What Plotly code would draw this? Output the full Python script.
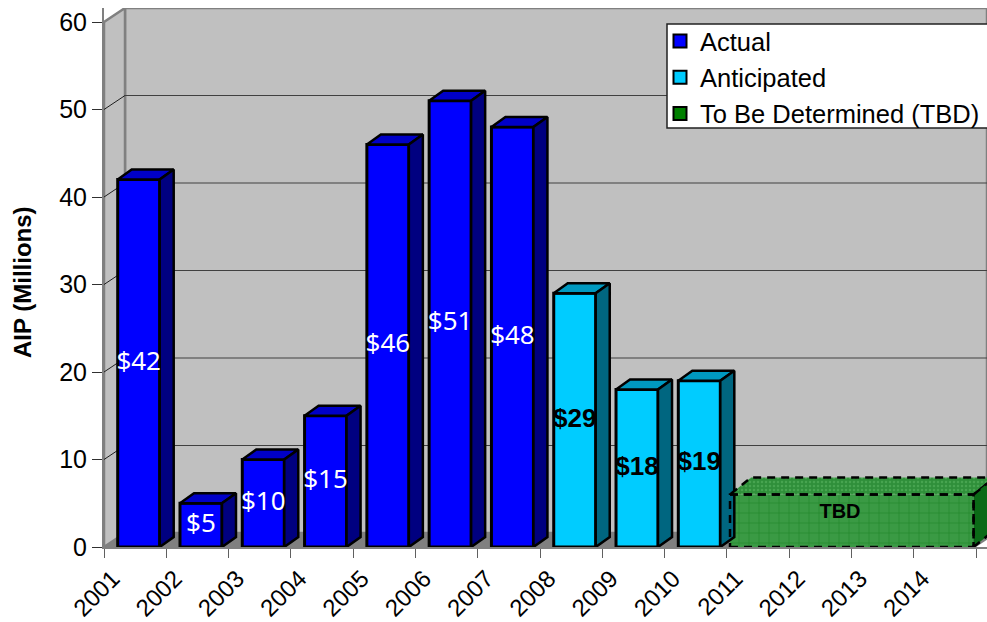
import plotly.graph_objects as go

# ---- data ----
years = ["2001","2002","2003","2004","2005","2006","2007","2008","2009","2010","2011","2012","2013","2014"]
actual = [42, 5, 10, 15, 46, 51, 48]
anticipated = [29, 18, 19]
tbd_value = 6
y_ticks = [0, 10, 20, 30, 40, 50, 60]
labels_actual = ["$42","$5","$10","$15","$46","$51","$48"]
labels_anticipated = ["$29","$18","$19"]

# ---- plot scale (pixels per data unit) ----
PXX = 62.29
PXY = 8.75
XMAX = 883 / PXX
YMAX = 539 / PXY
ux = lambda p: p / PXX
uy = lambda p: p / PXY
WALL_X, WALL_Y = ux(21), uy(14)
BAR_W = 42 / PXX
BAR_OFF = 0.557
DEPTH_X, DEPTH_Y = ux(14), uy(10)

FONT = "Liberation Sans"
DASH = "8px,6px"
fig = go.Figure()


def poly(xs, ys, fill, line="black", width=2.5, dash="solid", pattern=None):
    fig.add_trace(go.Scatter(
        x=xs + xs[:1], y=ys + ys[:1], mode="lines", fill="toself", fillcolor=fill,
        fillpattern=pattern,
        line=dict(color=line, width=width, dash=dash), showlegend=False,
        hoverinfo="skip"))


# front faces
fig.add_trace(go.Bar(
    x=[i + BAR_OFF for i in range(len(actual))], y=actual, width=BAR_W, showlegend=False,
    marker=dict(color="#0000FF", line=dict(color="black", width=3))))
fig.add_trace(go.Bar(
    x=[i + len(actual) + BAR_OFF for i in range(len(anticipated))], y=anticipated, width=BAR_W,
    showlegend=False,
    marker=dict(color="#00CCFF", line=dict(color="black", width=3))))

# TBD block spans the last four years
tbd_x0, tbd_x1 = 10.05, 13.96
fig.add_trace(go.Bar(
    x=[(tbd_x0 + tbd_x1) / 2], y=[tbd_value], width=tbd_x1 - tbd_x0, showlegend=False,
    marker=dict(color="#2F8F3A", line=dict(color="rgba(0,0,0,0)", width=0),
                pattern=dict(shape="+", fgcolor="#0A7A14", bgcolor="#3A9A44", size=10, solidity=0.14))))

# 3-D faces of the bars
series = [(actual, 0, "#0000C8", "#000080"), (anticipated, len(actual), "#0099C0", "#006680")]
for vals, start, top_c, side_c in series:
    for i, v in enumerate(vals):
        x0 = start + i + BAR_OFF - BAR_W / 2
        x1 = x0 + BAR_W
        poly([x0, x1, x1 + DEPTH_X, x0 + DEPTH_X], [v, v, v + DEPTH_Y, v + DEPTH_Y], top_c)
        poly([x1, x1 + DEPTH_X, x1 + DEPTH_X, x1], [0, DEPTH_Y, v + DEPTH_Y, v], side_c)

# TBD faces
tx, ty = ux(21), uy(17)
speckle = dict(shape=".", fgcolor="#5DB765", bgcolor="#2F8F3A", size=4, solidity=0.3)
poly([tbd_x0, tbd_x1, tbd_x1 + tx, tbd_x0 + tx], [tbd_value, tbd_value, tbd_value + ty, tbd_value + ty],
     "#2F8F3A", dash=DASH, pattern=speckle)
poly([tbd_x1, tbd_x1 + tx, tbd_x1 + tx, tbd_x1], [0, ty, tbd_value + ty, tbd_value],
     "#0B6A17", dash=DASH)
poly([tbd_x0, tbd_x1, tbd_x1, tbd_x0], [0, 0, tbd_value, tbd_value], "rgba(0,0,0,0)", dash=DASH)

# value labels
fig.add_trace(go.Scatter(
    x=[i + BAR_OFF for i in range(len(actual))], y=[v / 2 for v in actual], mode="text",
    text=labels_actual, textposition="middle center",
    textfont=dict(family="Noto Sans", size=26, color="white"), showlegend=False, hoverinfo="skip"))
fig.add_trace(go.Scatter(
    x=[i + len(actual) + BAR_OFF for i in range(len(anticipated))], y=[v / 2 for v in anticipated], mode="text",
    text=labels_anticipated, textposition="middle center",
    textfont=dict(family=FONT, size=26, color="black", weight="bold"), showlegend=False, hoverinfo="skip"))
fig.add_trace(go.Scatter(
    x=[(840 - 104) / PXX], y=[(547 - 513) / PXY], mode="text", text=["TBD"], textposition="middle center",
    textfont=dict(family=FONT, size=20, color="black", weight="bold"), showlegend=False, hoverinfo="skip"))

# legend entries
for name, colour in [("Actual", "#0000FF"), ("Anticipated", "#00CCFF"), ("To Be Determined (TBD)", "#008000")]:
    fig.add_trace(go.Scatter(
        x=[None], y=[None], mode="markers", name=name, legendgroup=name,
        marker=dict(symbol="square", size=13, color=colour, line=dict(color="black", width=2))))

# walls, floor and gridlines
shapes = []
def path(pts, fill, line=None, width=0):
    d = "M " + " L ".join(f"{a},{b}" for a, b in pts) + " Z"
    shapes.append(dict(type="path", path=d, fillcolor=fill, layer="below",
                       line=dict(color=line or "rgba(0,0,0,0)", width=width)))
path([(WALL_X, WALL_Y), (XMAX, WALL_Y), (XMAX, YMAX), (WALL_X, YMAX)], "#C0C0C0", "#808080", 2.5)
path([(0, 0), (WALL_X, WALL_Y), (WALL_X, YMAX), (0, 60)], "#C0C0C0", "#808080", 2.5)
path([(0, 0), (14, 0), (XMAX, ux(11) / WALL_X * WALL_Y), (XMAX, WALL_Y), (WALL_X, WALL_Y)], "#808080")
for t in y_ticks[1:-1]:
    shapes.append(dict(type="line", x0=0, y0=t, x1=WALL_X, y1=t + WALL_Y, layer="below",
                       line=dict(color="#202020", width=1)))
    shapes.append(dict(type="line", x0=WALL_X, y0=t + WALL_Y, x1=XMAX, y1=t + WALL_Y, layer="below",
                       line=dict(color="#404040", width=1.2)))
# legend box
shapes.append(dict(type="rect", x0=ux(667 - 104), x1=XMAX + 0.1, y0=uy(547 - 128), y1=uy(547 - 24), layer="below",
                   fillcolor="white", line=dict(color="#202020", width=1.5)))

fig.update_layout(
    width=987, height=622, margin=dict(l=104, r=0, t=8, b=75, autoexpand=False),
    plot_bgcolor="white", paper_bgcolor="white", barmode="overlay", shapes=shapes,
    font=dict(family=FONT, color="black"),
    showlegend=True,
    legend=dict(x=(660 - 104) / 883, xanchor="left", y=1 - 18 / 622, yanchor="top", yref="container",
                bgcolor="rgba(0,0,0,0)", borderwidth=0,
                font=dict(size=25.5, family=FONT), tracegroupgap=0, itemwidth=30),
    annotations=[dict(text="<b>AIP (Millions)</b>", textangle=-90, showarrow=False,
                      xref="paper", yref="paper", x=(22 - 104) / 883, y=(547 - 282) / 539,
                      xanchor="center", yanchor="middle", font=dict(size=24, color="black"))],
    xaxis=dict(range=[0, XMAX], showgrid=False, zeroline=False, showline=True, linecolor="#808080", linewidth=2,
               tickvals=[i + 0.14 for i in range(len(years))], ticktext=years, tickangle=-45, ticks="",
               tickfont=dict(size=24, color="black"), ticklen=0, ticklabelstandoff=6,
               minor=dict(tickvals=list(range(len(years) + 1)), ticks="outside", ticklen=9, tickcolor="#606060", tickwidth=1.2)),
    yaxis=dict(range=[0, YMAX], showgrid=False, zeroline=False, showline=True, linecolor="#808080", linewidth=2,
               tickvals=y_ticks, ticks="outside", ticklen=10, tickcolor="#303030", tickwidth=1,
               tickfont=dict(size=25, color="black")),
)

fig.write_html("out.html", post_script="document.body.style.margin='0';", config=dict(displayModeBar=False))
